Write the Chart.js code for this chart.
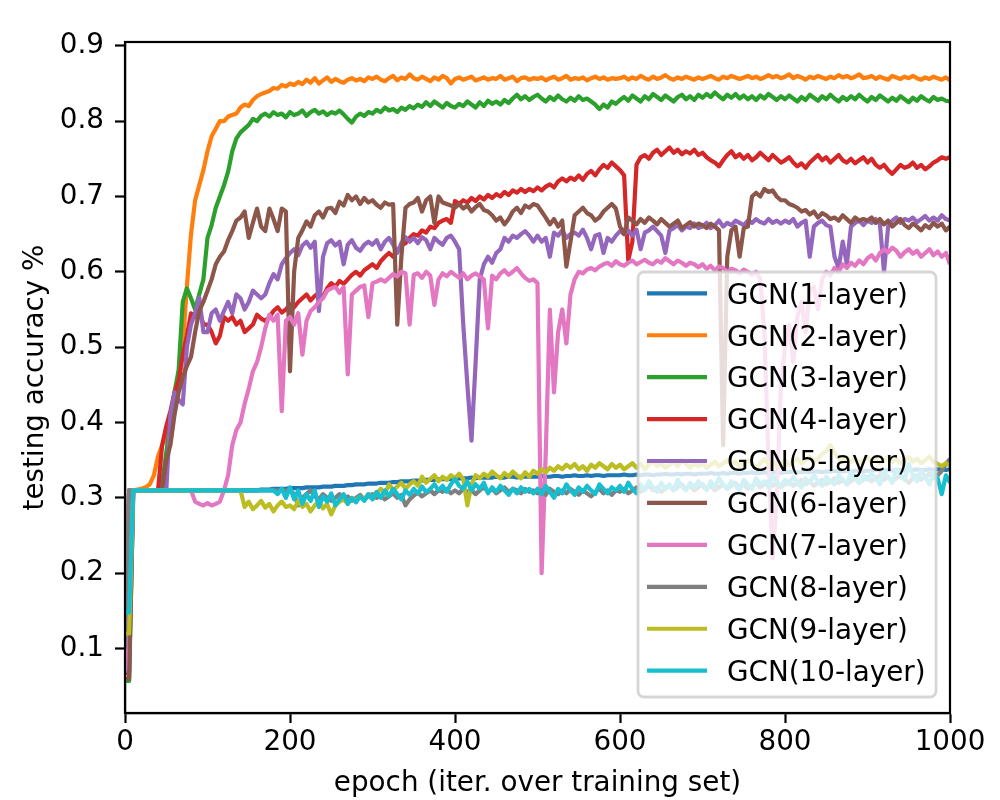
<!DOCTYPE html>
<html>
<head>
<meta charset="utf-8">
<script src="https://cdn.jsdelivr.net/npm/chart.js@4"></script>
<style>
  body { margin: 0; background: #fff; }
  canvas { display: block; }
</style>
</head>
<body>
<canvas id="acc" width="1000" height="800"></canvas>
<script>
// epochs sampled every 5 iterations (0..1000)
const epochs = Array.from({length: 201}, (_, i) => i * 5);

const seriesNames = ['GCN(1-layer)', 'GCN(2-layer)', 'GCN(3-layer)', 'GCN(4-layer)', 'GCN(5-layer)',
  'GCN(6-layer)', 'GCN(7-layer)', 'GCN(8-layer)', 'GCN(9-layer)', 'GCN(10-layer)'];
const seriesColors = ['#1f77b4', '#ff7f0e', '#2ca02c', '#d62728', '#9467bd',
  '#8c564b', '#e377c2', '#7f7f7f', '#bcbd22', '#17becf'];

const xTicks = [0, 200, 400, 600, 800, 1000];
const yTicks = [0.1, 0.2, 0.3, 0.4, 0.5, 0.6, 0.7, 0.8, 0.9];

// testing accuracy, one row = 100 epochs
const gcn1 = [
  0.09,0.31,0.31,0.31,0.31,0.31,0.31,0.31,0.31,0.31,0.31,0.31,0.31,0.31,0.31,0.31,0.31,0.31,0.31,0.31,
  0.31,0.31,0.31,0.31,0.31,0.31,0.31,0.31,0.31,0.31,0.31,0.31,0.31,0.311,0.311,0.311,0.312,0.312,0.312,0.312,
  0.313,0.313,0.313,0.313,0.314,0.314,0.314,0.314,0.315,0.315,0.315,0.316,0.316,0.316,0.317,0.317,0.318,0.318,0.318,0.319,
  0.319,0.319,0.32,0.32,0.32,0.321,0.321,0.322,0.322,0.322,0.323,0.323,0.323,0.324,0.324,0.324,0.325,0.325,0.325,0.325,
  0.326,0.326,0.326,0.326,0.327,0.326,0.327,0.327,0.327,0.327,0.328,0.327,0.327,0.328,0.328,0.327,0.328,0.328,0.328,0.328,
  0.328,0.329,0.328,0.328,0.329,0.329,0.328,0.329,0.329,0.33,0.329,0.329,0.33,0.329,0.33,0.33,0.329,0.33,0.33,0.33,
  0.33,0.331,0.33,0.33,0.331,0.33,0.331,0.331,0.33,0.331,0.331,0.332,0.331,0.331,0.332,0.331,0.332,0.332,0.331,0.332,
  0.332,0.332,0.333,0.332,0.332,0.333,0.332,0.333,0.333,0.332,0.333,0.333,0.334,0.333,0.333,0.334,0.333,0.334,0.334,0.333,
  0.334,0.334,0.335,0.334,0.334,0.335,0.334,0.335,0.335,0.334,0.335,0.335,0.336,0.335,0.335,0.336,0.335,0.336,0.336,0.335,
  0.336,0.336,0.337,0.336,0.336,0.337,0.336,0.337,0.337,0.336,0.337,0.337,0.338,0.337,0.337,0.338,0.337,0.338,0.338,0.337,
  0.338
];
const gcn2 = [
  0.08,0.31,0.31,0.311,0.312,0.314,0.318,0.33,0.355,0.37,0.38,0.40,0.42,0.445,0.50,0.58,0.65,0.695,0.715,0.735,
  0.76,0.78,0.79,0.80,0.80,0.806,0.808,0.81,0.818,0.822,0.82,0.828,0.833,0.836,0.838,0.84,0.844,0.843,0.848,0.846,
  0.85,0.848,0.852,0.849,0.855,0.851,0.857,0.85,0.854,0.858,0.852,0.856,0.853,0.851,0.855,0.857,0.854,0.856,0.853,0.858,
  0.856,0.859,0.855,0.853,0.857,0.86,0.854,0.858,0.856,0.862,0.857,0.855,0.859,0.856,0.853,0.858,0.855,0.86,0.857,0.85,
  0.856,0.858,0.855,0.857,0.859,0.854,0.856,0.858,0.855,0.857,0.856,0.86,0.855,0.857,0.859,0.853,0.857,0.858,0.855,0.857,
  0.856,0.858,0.854,0.857,0.859,0.855,0.857,0.86,0.855,0.857,0.856,0.858,0.854,0.857,0.859,0.856,0.858,0.855,0.857,0.856,
  0.857,0.859,0.855,0.858,0.856,0.86,0.857,0.855,0.859,0.856,0.858,0.861,0.857,0.855,0.858,0.856,0.859,0.857,0.855,0.858,
  0.856,0.858,0.86,0.857,0.855,0.859,0.857,0.86,0.858,0.856,0.858,0.86,0.857,0.859,0.856,0.858,0.861,0.858,0.86,0.857,
  0.859,0.862,0.857,0.86,0.858,0.855,0.859,0.857,0.86,0.858,0.856,0.859,0.857,0.861,0.858,0.86,0.857,0.859,0.862,0.857,
  0.858,0.86,0.856,0.859,0.857,0.855,0.86,0.858,0.856,0.859,0.857,0.86,0.857,0.855,0.858,0.856,0.859,0.857,0.855,0.858,
  0.854
];
const gcn3 = [
  0.057,0.057,0.31,0.31,0.31,0.31,0.31,0.31,0.31,0.32,0.36,0.40,0.44,0.47,0.56,0.578,0.565,0.55,0.57,0.59,
  0.645,0.662,0.685,0.70,0.715,0.733,0.76,0.777,0.785,0.79,0.795,0.803,0.80,0.807,0.81,0.806,0.812,0.808,0.81,0.805,
  0.812,0.808,0.81,0.814,0.807,0.812,0.815,0.81,0.813,0.808,0.812,0.81,0.814,0.809,0.803,0.798,0.806,0.81,0.807,0.812,
  0.81,0.815,0.812,0.818,0.814,0.816,0.812,0.818,0.815,0.82,0.817,0.822,0.819,0.825,0.82,0.826,0.822,0.818,0.824,0.82,
  0.818,0.823,0.82,0.826,0.822,0.818,0.825,0.82,0.827,0.823,0.826,0.822,0.828,0.824,0.83,0.835,0.829,0.833,0.828,0.832,
  0.835,0.83,0.826,0.832,0.828,0.834,0.829,0.826,0.831,0.827,0.833,0.828,0.83,0.826,0.822,0.816,0.822,0.818,0.826,0.823,
  0.828,0.832,0.827,0.834,0.83,0.826,0.833,0.829,0.836,0.832,0.828,0.834,0.83,0.826,0.832,0.835,0.829,0.833,0.828,0.835,
  0.831,0.836,0.832,0.838,0.833,0.829,0.835,0.831,0.836,0.83,0.834,0.829,0.833,0.828,0.834,0.83,0.836,0.832,0.828,0.833,
  0.829,0.834,0.83,0.826,0.832,0.828,0.835,0.831,0.827,0.833,0.829,0.835,0.83,0.826,0.832,0.828,0.833,0.829,0.835,0.83,
  0.826,0.832,0.828,0.834,0.83,0.826,0.831,0.827,0.833,0.829,0.825,0.831,0.827,0.833,0.829,0.826,0.832,0.828,0.83,0.827,
  0.826
];
const gcn4 = [
  0.065,0.31,0.31,0.31,0.31,0.31,0.31,0.31,0.31,0.37,0.395,0.415,0.44,0.455,0.49,0.515,0.545,0.54,0.55,0.53,
  0.53,0.52,0.505,0.515,0.54,0.535,0.54,0.53,0.535,0.52,0.525,0.53,0.543,0.538,0.535,0.54,0.548,0.553,0.546,0.55,
  0.557,0.553,0.56,0.565,0.57,0.562,0.568,0.572,0.566,0.578,0.585,0.58,0.588,0.584,0.59,0.596,0.60,0.595,0.602,0.606,
  0.61,0.605,0.614,0.62,0.625,0.62,0.628,0.635,0.638,0.645,0.65,0.648,0.655,0.652,0.66,0.658,0.665,0.668,0.67,0.665,
  0.694,0.69,0.695,0.692,0.698,0.694,0.70,0.696,0.702,0.698,0.703,0.70,0.706,0.702,0.708,0.705,0.71,0.706,0.71,0.707,
  0.712,0.708,0.713,0.716,0.712,0.72,0.724,0.72,0.725,0.722,0.728,0.722,0.73,0.734,0.728,0.736,0.742,0.738,0.745,0.74,
  0.735,0.728,0.615,0.64,0.742,0.752,0.755,0.75,0.758,0.762,0.755,0.76,0.765,0.758,0.762,0.756,0.76,0.757,0.762,0.755,
  0.758,0.752,0.748,0.745,0.74,0.748,0.755,0.76,0.752,0.756,0.75,0.755,0.748,0.752,0.758,0.753,0.748,0.755,0.75,0.745,
  0.748,0.752,0.745,0.74,0.744,0.738,0.745,0.75,0.755,0.748,0.752,0.745,0.75,0.755,0.748,0.745,0.75,0.744,0.748,0.752,
  0.745,0.75,0.742,0.738,0.742,0.735,0.73,0.736,0.742,0.738,0.74,0.745,0.738,0.742,0.736,0.74,0.745,0.748,0.752,0.75,
  0.752
];
const gcn5 = [
  0.07,0.07,0.31,0.31,0.31,0.31,0.31,0.31,0.31,0.31,0.31,0.41,0.44,0.43,0.424,0.50,0.53,0.545,0.566,0.52,
  0.52,0.545,0.55,0.535,0.548,0.56,0.545,0.57,0.565,0.55,0.56,0.575,0.57,0.565,0.57,0.585,0.597,0.59,0.61,0.618,
  0.625,0.63,0.622,0.635,0.64,0.632,0.64,0.548,0.62,0.638,0.642,0.635,0.64,0.61,0.636,0.642,0.632,0.628,0.636,0.64,
  0.636,0.642,0.63,0.64,0.645,0.636,0.625,0.638,0.646,0.64,0.645,0.638,0.646,0.642,0.63,0.645,0.64,0.636,0.645,0.648,
  0.64,0.63,0.53,0.45,0.376,0.48,0.59,0.61,0.62,0.612,0.625,0.63,0.645,0.64,0.648,0.645,0.65,0.654,0.648,0.64,
  0.648,0.64,0.645,0.62,0.652,0.648,0.655,0.645,0.65,0.652,0.648,0.656,0.645,0.63,0.648,0.65,0.625,0.645,0.64,0.648,
  0.654,0.65,0.655,0.648,0.656,0.63,0.652,0.655,0.66,0.654,0.648,0.625,0.655,0.658,0.662,0.655,0.66,0.658,0.664,0.658,
  0.66,0.665,0.658,0.662,0.668,0.66,0.665,0.662,0.668,0.665,0.662,0.668,0.665,0.67,0.666,0.664,0.67,0.665,0.668,0.664,
  0.668,0.665,0.67,0.66,0.665,0.668,0.62,0.66,0.665,0.668,0.662,0.66,0.62,0.605,0.64,0.61,0.66,0.665,0.668,0.662,
  0.668,0.665,0.67,0.664,0.60,0.66,0.668,0.672,0.665,0.67,0.668,0.672,0.666,0.67,0.674,0.668,0.672,0.668,0.675,0.67,
  0.668
];
const gcn6 = [
  0.06,0.06,0.31,0.31,0.31,0.31,0.31,0.31,0.31,0.31,0.35,0.37,0.41,0.44,0.46,0.475,0.487,0.52,0.548,0.56,
  0.575,0.59,0.61,0.62,0.627,0.642,0.654,0.668,0.672,0.68,0.645,0.665,0.684,0.66,0.654,0.684,0.67,0.654,0.684,0.68,
  0.468,0.60,0.645,0.655,0.667,0.66,0.675,0.68,0.672,0.684,0.685,0.678,0.693,0.688,0.702,0.695,0.70,0.69,0.698,0.692,
  0.695,0.689,0.685,0.692,0.689,0.69,0.53,0.62,0.685,0.69,0.692,0.698,0.68,0.695,0.70,0.665,0.70,0.692,0.69,0.688,
  0.685,0.69,0.684,0.688,0.68,0.686,0.69,0.682,0.68,0.675,0.668,0.672,0.663,0.67,0.68,0.685,0.678,0.688,0.685,0.69,
  0.688,0.68,0.672,0.663,0.67,0.66,0.668,0.607,0.64,0.675,0.68,0.685,0.678,0.675,0.668,0.672,0.68,0.685,0.69,0.684,
  0.66,0.65,0.672,0.668,0.663,0.67,0.665,0.672,0.668,0.663,0.67,0.665,0.66,0.664,0.668,0.658,0.662,0.666,0.66,0.664,
  0.662,0.658,0.664,0.66,0.655,0.37,0.62,0.655,0.66,0.62,0.658,0.66,0.70,0.705,0.70,0.71,0.706,0.708,0.70,0.695,
  0.695,0.69,0.688,0.685,0.68,0.682,0.676,0.68,0.672,0.678,0.675,0.67,0.672,0.668,0.675,0.67,0.665,0.672,0.668,0.67,
  0.668,0.672,0.665,0.67,0.663,0.668,0.66,0.665,0.67,0.662,0.658,0.664,0.66,0.655,0.662,0.658,0.665,0.66,0.664,0.655,
  0.66
];
const gcn7 = [
  0.07,0.31,0.31,0.31,0.31,0.31,0.31,0.31,0.31,0.31,0.31,0.31,0.31,0.31,0.31,0.31,0.31,0.295,0.292,0.29,
  0.293,0.29,0.292,0.295,0.31,0.33,0.37,0.39,0.40,0.425,0.445,0.468,0.48,0.50,0.525,0.543,0.535,0.543,0.415,0.535,
  0.54,0.53,0.545,0.49,0.535,0.548,0.553,0.56,0.565,0.575,0.578,0.58,0.572,0.58,0.464,0.57,0.575,0.58,0.582,0.54,
  0.585,0.587,0.59,0.587,0.592,0.597,0.594,0.60,0.598,0.53,0.596,0.598,0.592,0.60,0.595,0.556,0.59,0.598,0.594,0.60,
  0.596,0.592,0.598,0.59,0.595,0.598,0.594,0.59,0.525,0.595,0.59,0.598,0.602,0.596,0.60,0.605,0.598,0.592,0.588,0.59,
  0.585,0.20,0.36,0.55,0.44,0.52,0.55,0.505,0.57,0.59,0.60,0.598,0.603,0.605,0.602,0.607,0.61,0.612,0.608,0.614,
  0.61,0.608,0.612,0.615,0.61,0.613,0.616,0.612,0.61,0.615,0.612,0.618,0.614,0.61,0.615,0.612,0.608,0.612,0.61,0.606,
  0.61,0.604,0.608,0.602,0.607,0.605,0.60,0.604,0.602,0.598,0.603,0.60,0.596,0.60,0.59,0.52,0.35,0.22,0.30,0.45,
  0.50,0.53,0.48,0.54,0.56,0.52,0.575,0.58,0.55,0.59,0.60,0.595,0.605,0.60,0.61,0.605,0.612,0.608,0.615,0.61,
  0.618,0.622,0.615,0.625,0.63,0.626,0.632,0.628,0.62,0.626,0.63,0.624,0.628,0.62,0.625,0.63,0.622,0.627,0.62,0.625,
  0.61
];
const gcn8 = [
  0.10,0.31,0.31,0.31,0.31,0.31,0.31,0.31,0.31,0.31,0.31,0.31,0.31,0.31,0.31,0.31,0.31,0.31,0.31,0.31,
  0.31,0.31,0.31,0.31,0.31,0.31,0.31,0.31,0.31,0.31,0.31,0.31,0.31,0.31,0.31,0.31,0.31,0.31,0.31,0.31,
  0.31,0.305,0.29,0.30,0.305,0.31,0.302,0.298,0.305,0.30,0.296,0.30,0.305,0.298,0.302,0.296,0.30,0.304,0.298,0.302,
  0.305,0.30,0.303,0.298,0.302,0.306,0.30,0.304,0.29,0.298,0.303,0.307,0.302,0.306,0.31,0.305,0.31,0.308,0.312,0.306,
  0.31,0.306,0.312,0.308,0.31,0.305,0.31,0.314,0.308,0.312,0.306,0.31,0.314,0.308,0.312,0.31,0.306,0.312,0.308,0.31,
  0.306,0.31,0.304,0.312,0.308,0.305,0.31,0.306,0.312,0.308,0.304,0.31,0.306,0.302,0.308,0.312,0.306,0.31,0.304,0.31,
  0.308,0.312,0.306,0.31,0.314,0.308,0.312,0.316,0.31,0.314,0.308,0.312,0.316,0.31,0.314,0.318,0.312,0.316,0.31,0.314,
  0.318,0.312,0.316,0.31,0.314,0.318,0.312,0.316,0.32,0.314,0.318,0.312,0.316,0.32,0.314,0.318,0.322,0.316,0.32,0.314,
  0.318,0.322,0.316,0.32,0.324,0.318,0.322,0.316,0.32,0.324,0.318,0.322,0.326,0.32,0.324,0.318,0.322,0.326,0.32,0.324,
  0.328,0.322,0.326,0.33,0.324,0.328,0.322,0.326,0.33,0.325,0.32,0.326,0.33,0.324,0.328,0.332,0.326,0.33,0.336,0.345,
  0.352
];
const gcn9 = [
  0.12,0.12,0.31,0.31,0.31,0.31,0.31,0.31,0.31,0.31,0.31,0.31,0.31,0.31,0.31,0.31,0.31,0.31,0.31,0.31,
  0.31,0.31,0.31,0.31,0.31,0.31,0.31,0.31,0.31,0.288,0.295,0.285,0.29,0.296,0.287,0.292,0.282,0.29,0.295,0.288,
  0.29,0.285,0.296,0.288,0.292,0.282,0.29,0.295,0.286,0.292,0.278,0.29,0.295,0.298,0.292,0.30,0.296,0.302,0.298,0.305,
  0.30,0.306,0.312,0.305,0.318,0.31,0.315,0.32,0.312,0.318,0.322,0.316,0.328,0.32,0.325,0.33,0.322,0.328,0.324,0.33,
  0.326,0.332,0.325,0.29,0.318,0.33,0.326,0.332,0.328,0.335,0.33,0.326,0.333,0.328,0.335,0.33,0.326,0.334,0.328,0.336,
  0.332,0.338,0.334,0.34,0.336,0.342,0.338,0.344,0.34,0.345,0.338,0.342,0.336,0.344,0.34,0.346,0.342,0.338,0.345,0.34,
  0.344,0.338,0.342,0.346,0.34,0.345,0.338,0.344,0.348,0.342,0.346,0.34,0.344,0.348,0.342,0.35,0.345,0.34,0.346,0.342,
  0.346,0.34,0.344,0.348,0.342,0.346,0.35,0.344,0.348,0.342,0.346,0.35,0.345,0.34,0.346,0.352,0.345,0.348,0.342,0.346,
  0.35,0.344,0.348,0.352,0.346,0.35,0.355,0.348,0.352,0.358,0.362,0.37,0.36,0.352,0.348,0.354,0.348,0.352,0.346,0.35,
  0.354,0.348,0.352,0.346,0.35,0.355,0.348,0.352,0.346,0.35,0.354,0.348,0.352,0.346,0.35,0.355,0.348,0.345,0.342,0.346,
  0.343
];
const gcn10 = [
  0.148,0.148,0.31,0.31,0.31,0.31,0.31,0.31,0.31,0.31,0.31,0.31,0.31,0.31,0.31,0.31,0.31,0.31,0.31,0.31,
  0.31,0.31,0.31,0.31,0.31,0.31,0.31,0.31,0.31,0.31,0.31,0.31,0.31,0.31,0.31,0.31,0.31,0.305,0.312,0.30,
  0.314,0.298,0.31,0.292,0.305,0.296,0.31,0.288,0.302,0.295,0.306,0.29,0.298,0.305,0.292,0.30,0.294,0.302,0.296,0.305,
  0.298,0.308,0.30,0.31,0.302,0.312,0.305,0.298,0.31,0.304,0.312,0.306,0.315,0.308,0.312,0.318,0.31,0.316,0.308,0.318,
  0.325,0.316,0.312,0.322,0.31,0.318,0.312,0.32,0.306,0.314,0.308,0.316,0.31,0.304,0.312,0.306,0.314,0.308,0.312,0.306,
  0.312,0.305,0.316,0.308,0.30,0.312,0.306,0.318,0.31,0.304,0.314,0.308,0.316,0.31,0.305,0.318,0.312,0.306,0.314,0.31,
  0.316,0.308,0.32,0.312,0.306,0.318,0.31,0.322,0.314,0.308,0.32,0.312,0.318,0.31,0.324,0.315,0.31,0.32,0.314,0.322,
  0.316,0.31,0.322,0.314,0.326,0.318,0.312,0.322,0.316,0.31,0.324,0.318,0.312,0.326,0.318,0.322,0.314,0.33,0.32,0.316,
  0.324,0.318,0.328,0.32,0.314,0.326,0.32,0.33,0.322,0.316,0.328,0.322,0.318,0.33,0.324,0.318,0.334,0.326,0.32,0.33,
  0.324,0.332,0.326,0.318,0.334,0.328,0.32,0.338,0.33,0.324,0.345,0.33,0.322,0.336,0.328,0.318,0.334,0.326,0.305,0.33,
  0.32
];

const allSeries = [gcn1, gcn2, gcn3, gcn4, gcn5, gcn6, gcn7, gcn8, gcn9, gcn10];
const FONT = '"DejaVu Sans", sans-serif';
const FS = 27.8;  // 10pt at 200 dpi

// matplotlib style frame around the plot area plus the semi-transparent legend on top of the lines
const framePlugin = {
  id: 'frameAndLegend',
  afterDraw(chart) {
    const {ctx, chartArea: a} = chart;
    ctx.save();
    ctx.strokeStyle = '#000';
    ctx.lineWidth = 2.2;
    ctx.strokeRect(a.left, a.top, a.right - a.left, a.bottom - a.top);

    // legend box
    const bx = 638, by = 272, bw = 298, bh = 425, r = 6;
    ctx.beginPath();
    ctx.moveTo(bx + r, by);
    ctx.arcTo(bx + bw, by, bx + bw, by + bh, r);
    ctx.arcTo(bx + bw, by + bh, bx, by + bh, r);
    ctx.arcTo(bx, by + bh, bx, by, r);
    ctx.arcTo(bx, by, bx + bw, by, r);
    ctx.closePath();
    ctx.fillStyle = 'rgba(255,255,255,0.8)';
    ctx.fill();
    ctx.strokeStyle = 'rgba(204,204,204,0.8)';
    ctx.lineWidth = 2.8;
    ctx.stroke();

    ctx.font = FS + 'px ' + FONT;
    ctx.textAlign = 'left';
    ctx.textBaseline = 'alphabetic';
    chart.data.datasets.forEach((ds, i) => {
      const cy = 293.3 + i * 41.93;
      ctx.strokeStyle = ds.borderColor;
      ctx.lineWidth = 4.2;
      ctx.lineCap = 'butt';
      ctx.beginPath();
      ctx.moveTo(647, cy);
      ctx.lineTo(707, cy);
      ctx.stroke();
      ctx.fillStyle = '#000';
      ctx.fillText(ds.label, 727, cy + 10.3);
    });
    ctx.restore();
  }
};

new Chart(document.getElementById('acc'), {
  type: 'line',
  data: {
    datasets: allSeries.map((vals, i) => ({
      label: seriesNames[i],
      data: vals.map((v, j) => ({x: epochs[j], y: v})),
      borderColor: seriesColors[i],
      backgroundColor: seriesColors[i],
      borderWidth: 4.2,
      pointRadius: 0,
      tension: 0,
      fill: false,
      borderJoinStyle: 'round',
      order: 10 - i   // later series painted on top, as in the original
    }))
  },
  options: {
    responsive: false,
    devicePixelRatio: 1,
    animation: false,
    events: [],
    layout: {padding: {left: 0, top: 42, right: 50, bottom: 0}},
    plugins: {
      legend: {display: false},
      tooltip: {enabled: false}
    },
    scales: {
      x: {
        type: 'linear',
        min: 0,
        max: 1000,
        afterFit(scale) { scale.height = 87; },
        afterBuildTicks(scale) { scale.ticks = xTicks.map(v => ({value: v})); },
        grid: {display: true, drawOnChartArea: false, drawTicks: true, tickLength: 10, tickWidth: 2.2, tickColor: '#000'},
        border: {display: true, color: '#000', width: 2.2},
        ticks: {color: '#000', padding: 3, maxRotation: 0, font: {family: FONT, size: FS},
          callback: v => String(v)},
        title: {display: true, text: 'epoch (iter. over training set)', color: '#000',
          font: {family: FONT, size: FS}, padding: {top: 0, bottom: 0}}
      },
      y: {
        type: 'linear',
        min: 0.0145,
        max: 0.905,
        afterFit(scale) { scale.width = 125; },
        afterBuildTicks(scale) { scale.ticks = yTicks.map(v => ({value: v})); },
        grid: {display: true, drawOnChartArea: false, drawTicks: true, tickLength: 10, tickWidth: 2.2, tickColor: '#000'},
        border: {display: true, color: '#000', width: 2.2},
        ticks: {color: '#000', padding: 11, font: {family: FONT, size: FS},
          callback: v => v.toFixed(1)},
        title: {display: true, text: 'testing accuracy %', color: '#000',
          font: {family: FONT, size: FS}, padding: {top: 19, bottom: 0}}
      }
    }
  },
  plugins: [framePlugin]
});
</script>
</body>
</html>
